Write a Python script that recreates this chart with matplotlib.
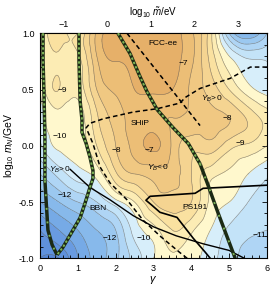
import numpy as np
import matplotlib
matplotlib.use('Agg')
import matplotlib.pyplot as plt
import matplotlib.tri as mtri
from matplotlib.colors import ListedColormap, BoundaryNorm
from matplotlib.ticker import MultipleLocator, FixedLocator, FormatStrFormatter

plt.rcParams['font.family'] = ['Liberation Sans', 'DejaVu Sans']
plt.rcParams['mathtext.fontset'] = 'custom'
plt.rcParams['mathtext.rm'] = 'Liberation Sans'
plt.rcParams['mathtext.it'] = 'Liberation Sans:italic'

# log10|Y_B| on a coarse grid
gamma_grid = [0, 0.5, 1, 1.5, 2, 2.5, 3, 3.5, 4, 4.5, 5, 5.5, 6]
logmN_grid = [1.0, 0.75, 0.5, 0.25, 0.0, -0.25, -0.5, -0.75, -1.0]
logYB = [
    [-9.5, -8.8, -9.0, -7.4, -6.8, -6.7, -6.7, -6.8, -7.4, -8.8, -11.5, -12.5, -11.5],
    [-9.6, -9.1, -9.2, -7.6, -7.0, -6.8, -6.6, -6.8, -7.4, -8.6, -9.8, -10.4, -10.5],
    [-10.0, -9.0, -9.3, -8.0, -7.4, -7.0, -6.9, -7.0, -7.6, -8.2, -9.0, -9.8, -10.2],
    [-10.2, -9.7, -9.8, -8.6, -7.8, -7.2, -7.3, -7.5, -7.6, -7.8, -8.0, -8.6, -9.2],
    [-10.6, -9.9, -9.8, -9.0, -8.0, -7.3, -6.9, -7.6, -8.3, -8.2, -8.8, -9.1, -9.5],
    [-11.5, -10.8, -10.2, -9.8, -8.6, -8.0, -7.8, -7.8, -8.5, -9.3, -9.6, -10.0, -10.4],
    [-12.5, -12.0, -11.5, -11.0, -10.2, -9.5, -8.5, -8.2, -8.5, -9.6, -10.0, -10.5, -10.8],
    [-13.5, -13.0, -12.5, -12.0, -11.5, -10.3, -9.7, -9.0, -9.4, -10.0, -10.6, -10.9, -11.0],
    [-14.0, -14.0, -13.0, -12.3, -11.6, -10.8, -10.0, -9.6, -9.8, -10.3, -10.8, -11.2, -11.4],
]

# Y_B = 0 curves
zeroA_gamma = [0.08, 0.08, 0.11, 0.13, 0.13, 0.16, 0.21, 0.32, 0.45]
zeroA_logm = [1.0, 0.76, 0.40, 0.05, -0.31, -0.48, -0.75, -0.88, -0.97]
zeroB_gamma = [1.03, 1.03, 1.06, 1.11, 1.11, 1.22, 1.32, 1.40, 1.40, 1.32, 1.19, 1.06, 0.87, 0.61, 0.45]
zeroB_logm = [1.0, 0.76, 0.40, 0.23, 0.12, 0.02, -0.10, -0.22, -0.29, -0.37, -0.51, -0.64, -0.75, -0.90, -0.97]
zeroC_gamma = [2.06, 2.38, 2.65, 2.83, 3.10, 3.52, 3.92, 4.23, 4.42, 4.71, 5.16]
zeroC_logm = [1.0, 0.82, 0.61, 0.48, 0.32, 0.16, 0.02, -0.16, -0.33, -0.60, -1.0]

# experimental reach / bounds
fcc_gamma = [2.3, 4.23]
fcc_logm = [1.0, 0.18]
ship_gamma = [6.0, 5.56, 5.03, 4.23, 3.84, 3.70, 3.10, 2.46, 1.67, 1.32, 1.22,
              1.40, 1.59, 1.85, 2.30, 2.72, 3.20, 3.70, 3.89]
ship_logm = [0.70, 0.70, 0.60, 0.51, 0.43, 0.38, 0.33, 0.30, 0.24, 0.20, 0.16,
             0.02, -0.19, -0.33, -0.48, -0.66, -0.81, -0.95, -1.0]
bbn_gamma = [0.80, 1.32, 1.85, 2.46, 3.0, 3.6, 4.3, 5.0, 5.4]
bbn_logm = [-0.21, -0.37, -0.48, -0.62, -0.72, -0.80, -0.87, -0.93, -1.0]
ps191_gamma = [6.0, 4.31, 4.10, 2.91, 2.80, 2.96, 3.17, 3.62, 4.05, 4.37, 4.50]
ps191_logm = [-0.35, -0.378, -0.422, -0.449, -0.484, -0.529, -0.591, -0.636, -0.822, -0.947, -1.0]

top_ticks = [-1, 0, 1, 2, 3]

G, M = np.meshgrid(gamma_grid, logmN_grid)
Z = np.array(logYB)
tri = mtri.Triangulation(G.ravel(), M.ravel())
tri_f, z_f = mtri.UniformTriRefiner(tri).refine_field(Z.ravel(), subdiv=4)

levels = np.arange(-14, -6.0, 0.5)
band_cols = ['#5f91dc', '#699be1', '#76aae6', '#87b9eb', '#9bc8f0', '#afd5f5',
             '#c3e3f8', '#d7eefa', '#fff8cd', '#fcecb4', '#fae1a0', '#f5d491',
             '#f0c882', '#ecbe76', '#e6b069']
cmap = ListedColormap(band_cols)
cmap.set_under('#5587d7')
cmap.set_over('#e1a55f')
norm = BoundaryNorm(levels, cmap.N)

fig = plt.figure(figsize=(2.74, 2.92), dpi=100)
ax = fig.add_axes([0.146, 0.1154, 0.8285, 0.7705])
ax.tricontourf(tri_f, z_f, levels=levels, cmap=cmap, norm=norm, extend='both')
ax.tricontour(tri_f, z_f, levels=levels, colors='0.35', linewidths=0.45,
              linestyles='solid', alpha=0.65)

# constraint lines
ax.plot(fcc_gamma, fcc_logm, color='k', lw=1.1, ls=(0, (3, 2)), zorder=4)
ax.plot(ship_gamma, ship_logm, color='k', lw=1.1, ls=(0, (3, 2)), zorder=4)
ax.plot(bbn_gamma, bbn_logm, color='k', lw=1.0, zorder=4)
ax.plot(ps191_gamma, ps191_logm, color='k', lw=1.2, zorder=4)

# sign change lines
def zero_line(g, m, sparse=False):
    ax.plot(g, m, color='#1c2a14', lw=2.5, solid_capstyle='butt', zorder=5)
    dash = (0, (1.0, 6.0)) if sparse else (0, (1.2, 1.2))
    ax.plot(g, m, color='#7db356', lw=1.4, ls=dash, zorder=6)

zero_line(zeroA_gamma[:5], zeroA_logm[:5])
zero_line(zeroA_gamma[4:], zeroA_logm[4:], sparse=True)
zero_line(zeroB_gamma, zeroB_logm)
zero_line(zeroC_gamma[:8], zeroC_logm[:8])
zero_line(zeroC_gamma[7:], zeroC_logm[7:], sparse=True)

fs = 6
for x, y, s in [(3.25, 0.91, 'FCC-ee'), (2.65, 0.20, 'SHiP'), (1.52, -0.56, 'BBN'),
                (4.1, -0.55, 'PS191'), (4.55, 0.42, r'$Y_B\!>\!0$'),
                (3.1, -0.2, r'$Y_B\!<\!0$'), (0.53, -0.21, r'$Y_B\!>\!0$')]:
    ax.text(x, y, s, fontsize=fs, ha='center', va='center', zorder=7)
for x, y, s in [(0.6, 0.49, '-9'), (0.53, 0.08, '-10'), (0.66, -0.44, '-12'),
                (1.85, -0.82, '-12'), (2.73, -0.82, '-10'), (5.8, -0.8, '-11'),
                (5.3, 0.02, '-9'), (4.95, 0.24, '-8'), (2.03, -0.04, '-8'),
                (2.9, -0.04, '-7'), (3.8, 0.73, '-7')]:
    ax.text(x, y, s.replace('-', '\u2212'), fontsize=fs, ha='center', va='center', zorder=3)

ax.set_xlim(0, 6)
ax.set_ylim(-1, 1)
ax.xaxis.set_major_locator(MultipleLocator(1))
ax.xaxis.set_minor_locator(MultipleLocator(0.2))
ax.yaxis.set_major_locator(MultipleLocator(0.5))
ax.yaxis.set_minor_locator(MultipleLocator(0.1))
ax.yaxis.set_major_formatter(FormatStrFormatter('%.1f'))
ax.tick_params(which='both', direction='in', top=False, right=True, width=0.6,
               labelsize=6.5, pad=4)
ax.tick_params(which='major', length=3.5)
ax.tick_params(which='minor', length=2)
for sp in ax.spines.values():
    sp.set_linewidth(0.8)

sec = ax.secondary_xaxis('top', functions=(lambda g: (g - 1.78) / 1.1513,
                                           lambda m: 1.1513 * m + 1.78))
sec.xaxis.set_major_locator(FixedLocator(top_ticks))
sec.xaxis.set_minor_locator(FixedLocator(np.arange(-1.4, 3.61, 0.2)))
sec.tick_params(which='both', direction='in', width=0.6, labelsize=6.5, pad=3)
sec.tick_params(which='major', length=3.5)
sec.tick_params(which='minor', length=2)
sec.set_xlabel(r'$\log_{10}\,\tilde{m}/\mathrm{eV}$', fontsize=7, labelpad=3)

ax.set_xlabel(r'$\gamma$', fontsize=8, labelpad=1)
ax.set_ylabel(r'$\log_{10}\,m_N/\mathrm{GeV}$', fontsize=7.5, labelpad=2)

fig.savefig('out.png', dpi=100)
